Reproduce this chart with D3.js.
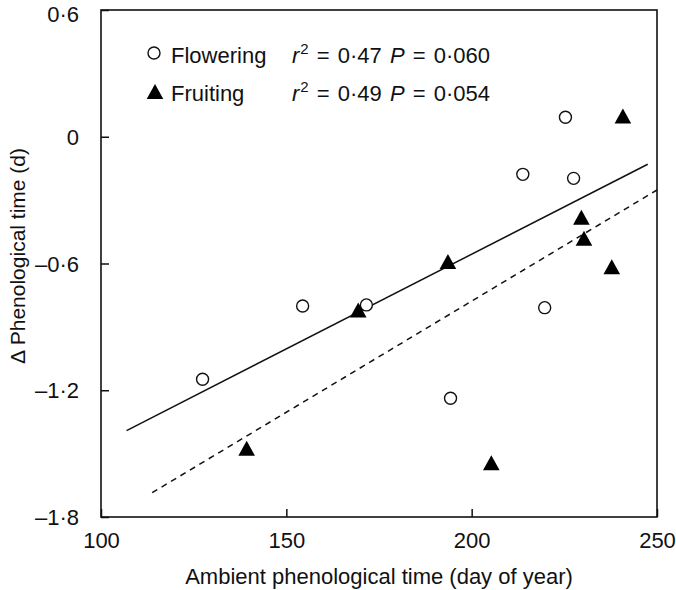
<!DOCTYPE html>
<html><head><meta charset="utf-8">
<script src="https://cdn.jsdelivr.net/npm/d3@7"></script>
<style>body{margin:0;background:#fff}svg{display:block}text{font-family:"Liberation Sans",Arial,sans-serif;fill:#111}</style>
</head><body><svg id="c" width="676" height="590"></svg>
<script>
const floweringX = [127.4, 154.4, 171.6, 194.3, 219.7, 213.8, 227.5, 225.3];
const floweringY = [-1.148, -0.801, -0.796, -1.238, -0.809, -0.178, -0.197, 0.092];
const fruitingX = [139.3, 169.4, 193.6, 205.3, 229.6, 230.3, 237.8, 240.8];
const fruitingY = [-1.475, -0.82, -0.591, -1.543, -0.381, -0.481, -0.615, 0.098];
const floweringFitX = [106.9, 247.5];
const floweringFitY = [-1.391, -0.130];
const fruitingFitX = [113.8, 250];
const fruitingFitY = [-1.685, -0.252];
const xTicks = [100, 150, 200, 250];
const yTicks = [0.6, 0, -0.6, -1.2, -1.8];
const legendNames = ["Flowering", "Fruiting"];
const legendR2 = ["0·47", "0·49"];
const legendP = ["0·060", "0·054"];

const fmt = v => v === 0 ? "0" : (v < 0 ? "\u2013" : "") + Math.abs(v).toFixed(1).replace(".", "\u00b7");

const svg = d3.select("#c");
const L = 101, R = 657, T = 10, B = 517;
const FS = 22;
const x = d3.scaleLinear().domain([100, 250]).range([L, R]);
const y = d3.scaleLinear().domain([-1.8, 0.6]).range([B, T]);

// axes with inward ticks
const xAxis = d3.axisBottom(x).tickValues(xTicks).tickSize(-8).tickPadding(20).tickFormat(d => d);
const gx = svg.append("g").attr("transform", `translate(0,${B})`).call(xAxis);
gx.select(".domain").remove();
gx.selectAll("line").attr("stroke", "#111").attr("stroke-width", 1.5);
gx.selectAll("text").attr("font-size", FS).attr("fill", "#111").attr("dy", 0).attr("y", 31);

const yAxis = d3.axisLeft(y).tickValues(yTicks).tickSize(-8).tickPadding(22).tickFormat(fmt);
const gy = svg.append("g").attr("transform", `translate(${L},0)`).call(yAxis);
gy.select(".domain").remove();
gy.selectAll("line").attr("stroke", "#111").attr("stroke-width", 1.5);
gy.selectAll("text").attr("font-size", FS).attr("fill", "#111").attr("x", -22)
  .attr("dy", d => d === 0.6 ? "0.5em" : "0.35em");
svg.selectAll("g").attr("font-family", null);

// frame
svg.append("rect").attr("x", L).attr("y", T).attr("width", R - L).attr("height", B - T)
  .attr("fill", "none").attr("stroke", "#111").attr("stroke-width", 1.6);

// fit lines
svg.append("line").attr("x1", x(floweringFitX[0])).attr("y1", y(floweringFitY[0]))
  .attr("x2", x(floweringFitX[1])).attr("y2", y(floweringFitY[1]))
  .attr("stroke", "#111").attr("stroke-width", 1.5);
svg.append("line").attr("x1", x(fruitingFitX[0])).attr("y1", y(fruitingFitY[0]))
  .attr("x2", x(fruitingFitX[1])).attr("y2", y(fruitingFitY[1]))
  .attr("stroke", "#111").attr("stroke-width", 1.5).attr("stroke-dasharray", "6,5");

const tri = "M0,-7.5L8.3,7.5L-8.3,7.5Z";

// flowering points
svg.append("g").selectAll("circle").data(floweringX.map((v, i) => [v, floweringY[i]])).join("circle")
  .attr("cx", d => x(d[0])).attr("cy", d => y(d[1])).attr("r", 6)
  .attr("fill", "#fff").attr("stroke", "#111").attr("stroke-width", 1.4);

// fruiting points
svg.append("g").selectAll("path").data(fruitingX.map((v, i) => [v, fruitingY[i]])).join("path")
  .attr("d", tri).attr("transform", d => `translate(${x(d[0])},${y(d[1])})`)
  .attr("fill", "#000");

// legend
const ly = [53, 91.5];
const lb = [63.3, 100.5];
svg.append("circle").attr("cx", 154).attr("cy", ly[0]).attr("r", 6)
  .attr("fill", "#fff").attr("stroke", "#111").attr("stroke-width", 1.4);
svg.append("path").attr("d", tri).attr("transform", `translate(155,${ly[1]})`).attr("fill", "#000");
legendNames.forEach((n, i) => {
  svg.append("text").attr("x", 171).attr("y", lb[i]).attr("font-size", FS).text(n);
  const t = svg.append("text").attr("x", 292).attr("y", lb[i]).attr("font-size", FS)
    .attr("word-spacing", 2);
  t.append("tspan").attr("font-style", "italic").text("r");
  t.append("tspan").attr("font-size", 15).attr("dy", -9).attr("dx", 1).text("2");
  t.append("tspan").attr("dy", 9).text(" = " + legendR2[i] + " ");
  t.append("tspan").attr("font-style", "italic").text("P");
  t.append("tspan").text(" = " + legendP[i]);
});

// axis titles
svg.append("text").attr("x", (L + R) / 2).attr("y", 584).attr("text-anchor", "middle")
  .attr("font-size", FS).text("Ambient phenological time (day of year)");
svg.append("text").attr("transform", `translate(25,256) rotate(-90)`).attr("text-anchor", "middle")
  .attr("font-size", 21).text("\u0394 Phenological time (d)");
</script></body></html>
